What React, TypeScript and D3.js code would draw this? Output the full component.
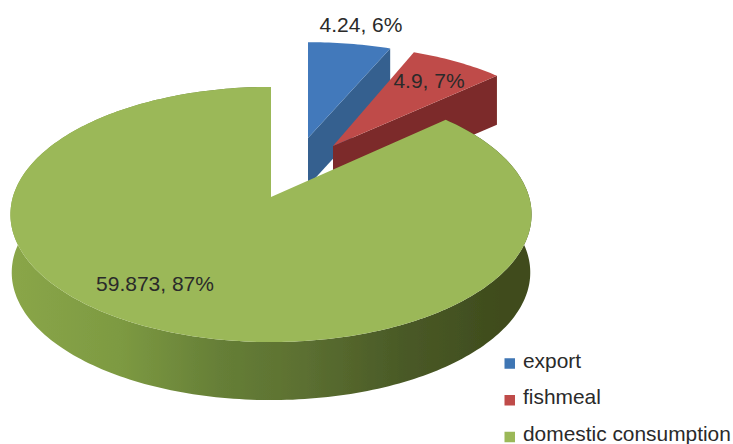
import React from "react";
import * as d3 from "d3";

const categories = ["export", "fishmeal", "domestic consumption"];
const values = [4.24, 4.9, 59.873];
const labels = ["4.24, 6%", "4.9, 7%", "59.873, 87%"];
const topColors = ["#4279bb", "#bf4b49", "#9bb858"];
const sideColors = ["#35618f", "#7c2b29", "#7c9440"];
const legendColors = ["#3f76b4", "#bf4b49", "#9bb858"];

const W = 733, H = 444;
const apexes: [number, number][] = [[308, 138], [333, 146], [271, 197]];
const scalesX = [0.955, 0.94, 1.002];
const scalesY = [0.87, 0.91, 1];
const depths = [48, 49, 58];
const labelPos: [number, number][] = [[361, 32], [429, 88], [155, 291]];

const RX = 257.6, RY = 125.2, K = 0.137;

const arcs = d3.pie<number>().sort(null)(values);

function project(theta: number, apex: [number, number], sx: number, sy: number, dy = 0): [number, number] {
  const w = 1 + K * Math.cos(theta);
  return [apex[0] + (sx * RX * Math.sin(theta)) / w, apex[1] + dy - (sy * RY * Math.cos(theta)) / w];
}

function arcPts(a0: number, a1: number, apex: [number, number], sx: number, sy: number, dy = 0) {
  const n = Math.max(2, Math.ceil((a1 - a0) / 0.02));
  return d3.range(n + 1).map((i) => project(a0 + ((a1 - a0) * i) / n, apex, sx, sy, dy));
}

const line = d3.line();
const legendY = d3.scalePoint<string>().domain(categories).range([363.5, 437]);

export default function App() {
  return (
    <svg width={W} height={H} style={{ position: "absolute", left: 0, top: 0, background: "#fff" }} fontFamily="'Liberation Sans', sans-serif">
      <defs>
        <linearGradient id="wall" gradientUnits="userSpaceOnUse" x1={10} x2={531} y1={0} y2={0}>
          <stop offset="0" stopColor="#8aa648" />
          <stop offset="0.21" stopColor="#7d9a42" />
          <stop offset="0.4" stopColor="#667f37" />
          <stop offset="0.56" stopColor="#5c7031" />
          <stop offset="0.75" stopColor="#4a5a27" />
          <stop offset="0.94" stopColor="#3f4c1d" />
          <stop offset="1" stopColor="#3f4c1d" />
        </linearGradient>
        <filter id="soft" x="-5%" y="-5%" width="110%" height="110%">
          <feGaussianBlur stdDeviation="0.6" />
        </filter>
      </defs>
      <g filter="url(#soft)">
        {arcs.map((d, i) => {
          const apex = apexes[i], sx = scalesX[i], sy = scalesY[i], dep = depths[i];
          const top = arcPts(d.startAngle, d.endAngle, apex, sx, sy);
          const isMain = i === 2;
          const wallBottom = arcPts(d.startAngle, d.endAngle, apex, sx * 0.995, sy, dep).reverse();
          const sideEnd = project(d.endAngle, apex, sx, sy);
          const sideEndB = project(d.endAngle, apex, sx, sy, dep);
          const radial = [apex, sideEnd, sideEndB, [apex[0], apex[1] + dep]] as [number, number][];
          return (
            <g key={categories[i]}>
              {isMain ? (
                <path d={line([...top, ...wallBottom]) + "Z"} fill="url(#wall)" />
              ) : (
                <path d={line(radial) + "Z"} fill={sideColors[i]} />
              )}
              <path d={line([apex, ...top]) + "Z"} fill={topColors[i]} />
            </g>
          );
        })}
      </g>
      {labels.map((t, i) => (
        <text key={t} x={labelPos[i][0]} y={labelPos[i][1]} fontSize={21} fill="#2a2a2a" textAnchor="middle">{t}</text>
      ))}
      {categories.map((c, i) => (
        <g key={c}>
          <rect x={504.5} y={legendY(c)! - 5.25} width={10.5} height={10.5} fill={legendColors[i]} />
          <text x={523} y={legendY(c)! + 4} fontSize={20.9} fill="#2a2a2a">{c}</text>
        </g>
      ))}
    </svg>
  );
}
